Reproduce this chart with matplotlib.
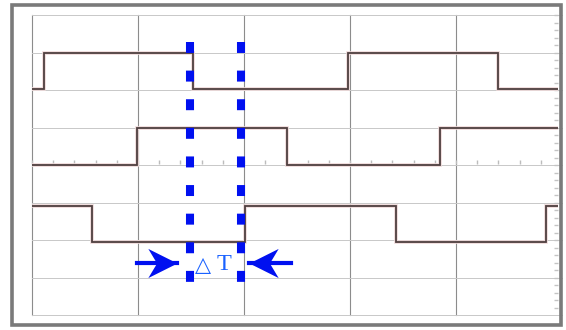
import numpy as np
import matplotlib.pyplot as plt
from matplotlib.path import Path
from matplotlib.patches import Rectangle

plt.rcParams['lines.scale_dashes'] = False

# screen layout (pixels per division, grid origin)
X0, DX = 32, 106.0
Y0, DY = 15, 37.5
W, H = 566, 330

# trace 1: edges (div) and levels
t1_edges = [0.0, 0.11, 1.52, 2.98, 4.40, 4.96]
t1_levels = [1.98, 1.0, 1.98, 1.0, 1.98]
# trace 2
t2_edges = [0.0, 0.99, 2.41, 3.85, 4.96]
t2_levels = [4.0, 3.01, 4.0, 3.01]
# trace 3
t3_edges = [0.0, 0.57, 2.01, 3.43, 4.85, 4.96]
t3_levels = [5.08, 6.04, 5.08, 6.04, 5.08]

# delta-T markers
dt_x = [1.49, 1.967]
dt_y = [0.72, 7.12]
arrow_y = 6.6
left_arrow = [0.99, 1.37]    # tail, tip
right_arrow = [2.44, 2.05]   # tail, tip
delta_x, t_x, label_y = 1.612, 1.81, 6.66

fig = plt.figure(figsize=(W / 100, H / 100), dpi=100)
ax = fig.add_axes([0, 0, 1, 1])
ax.set_xlim(-X0 / DX, (W - X0) / DX)
ax.set_ylim((H - Y0) / DY, -Y0 / DY)
ax.axis('off')

# graticule
for gx in range(0, 5):
    ax.plot([gx, gx], [0, 8], color='#8c8c8c', lw=0.8, zorder=1)
for gy in range(0, 9):
    ax.plot([0, 5], [gy, gy], color='#c8c8c8', lw=0.7, zorder=1)
# minor ticks on centre line and right edge
mt = np.arange(0, 5, 0.2)
ax.plot(mt, np.full_like(mt, 3.93), ls='none', marker='|', ms=3,
        color='#bcbcbc', zorder=1)
my = np.arange(0, 8, 0.2)
ax.plot(np.full_like(my, 4.94), my, ls='none', marker='_', ms=3,
        color='#c4c4c4', zorder=1)

# frame
ax.add_patch(Rectangle((-20.5 / DX, -10.5 / DY), 549.5 / DX, 320.5 / DY,
                       fill=False, ec='#7a7a7a', lw=2.6, zorder=5))

# traces
for edges, levels in [(t1_edges, t1_levels), (t2_edges, t2_levels),
                      (t3_edges, t3_levels)]:
    ax.stairs(levels, edges, baseline=None, color='#eed8d8', lw=2.6, zorder=2)
    ax.stairs(levels, edges, baseline=None, color='#4e3f3f', lw=1.3, zorder=3)

# dotted delta-T lines
for x in dt_x:
    ax.plot([x, x], dt_y, color='#0010f0', lw=5.8, dashes=(7.9, 12.7),
            solid_capstyle='butt', zorder=6)

# arrows
head = Path([(0, 0), (-1, 0.5), (-0.7, 0), (-1, -0.5), (0, 0)],
            [Path.MOVETO, Path.LINETO, Path.LINETO, Path.LINETO, Path.CLOSEPOLY])
head_l = Path(head.vertices * [-1, 1], head.codes)
ax.plot(left_arrow, [arrow_y, arrow_y], color='#0010f0', lw=3, zorder=6)
ax.plot([left_arrow[1]], [arrow_y], marker=head, ms=42, mew=0,
        color='#0010f0', zorder=7)
ax.plot(right_arrow, [arrow_y, arrow_y], color='#0010f0', lw=3, zorder=6)
ax.plot([right_arrow[1]], [arrow_y], marker=head_l, ms=42, mew=0,
        color='#0010f0', zorder=7)

ax.text(delta_x, label_y, "\u25b3", color='#1a62ff', fontsize=15,
        family='DejaVu Sans', ha='center', va='center', zorder=7)
ax.text(t_x, label_y, "T", color='#1a62ff', fontsize=17.5,
        family='Liberation Serif', ha='center', va='center', zorder=7)

fig.savefig('out.png', dpi=100, facecolor='white')
